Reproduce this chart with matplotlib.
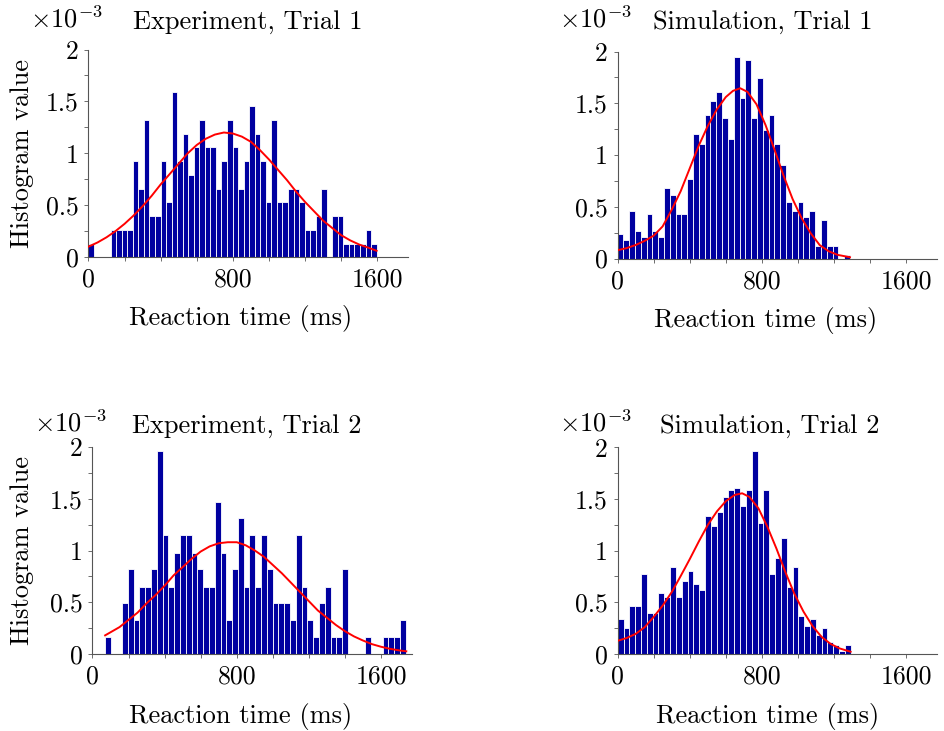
import numpy as np
import matplotlib
matplotlib.use('Agg')
import matplotlib.pyplot as plt
from matplotlib.ticker import MultipleLocator, FixedLocator, NullFormatter

plt.rcParams['font.family'] = 'serif'
plt.rcParams['font.serif'] = ['cmr10']
plt.rcParams['mathtext.fontset'] = 'cm'
plt.rcParams['axes.unicode_minus'] = False
plt.rcParams['axes.formatter.use_mathtext'] = True

# histogram heights are in units of 1e-3 (shown as x10^-3 above each panel)
exp1_heights = [0.13, 0, 0, 0, 0.26, 0.26, 0.26, 0.26, 0.93, 0.66, 1.32, 0.40, 0.40, 0.93, 0.53, 1.59,
                0.93, 1.19, 0.79, 1.06, 1.32, 1.06, 1.06, 0.66, 0.93, 1.32, 1.06, 0.66, 0.93, 1.46, 1.19,
                0.93, 0.53, 1.32, 0.53, 0.53, 0.66, 0.66, 0.53, 0.26, 0.26, 0.40, 0.66, 0, 0.40, 0.40,
                0.13, 0.13, 0.13, 0.13, 0.26, 0.13]
exp1_bin_start = 0
exp1_bin_width = 30.7
exp1_fit_x = [0, 50, 100, 150, 200, 250, 300, 350, 400, 450, 500, 550, 600, 650, 700, 750, 800, 850,
              900, 950, 1000, 1050, 1100, 1150, 1200, 1250, 1300, 1350, 1400, 1450, 1500, 1550, 1596]
exp1_fit_y = [0.10, 0.14, 0.19, 0.25, 0.32, 0.40, 0.49, 0.59, 0.70, 0.80, 0.90, 1.00, 1.08, 1.14, 1.18,
              1.20, 1.19, 1.16, 1.11, 1.03, 0.94, 0.84, 0.74, 0.63, 0.53, 0.44, 0.35, 0.28, 0.21, 0.16,
              0.12, 0.09, 0.06]

sim1_heights = [0.24, 0.18, 0.46, 0.27, 0.21, 0.43, 0.27, 0.21, 0.68, 0.61, 0.43, 0.43, 0.77, 1.20,
                1.11, 1.39, 1.52, 1.61, 1.36, 1.15, 1.95, 1.55, 1.92, 1.36, 1.74, 1.24, 1.39, 1.11,
                0.90, 0.55, 0.46, 0.55, 0.40, 0.46, 0.12, 0.37, 0.12, 0.12, 0, 0.03]
sim1_bin_start = 0
sim1_bin_width = 32.2
sim1_fit_x = [0, 50, 100, 150, 200, 250, 300, 350, 400, 450, 500, 550, 600, 640, 680, 720, 770, 820,
              870, 920, 970, 1020, 1070, 1120, 1170, 1220, 1288]
sim1_fit_y = [0.08, 0.10, 0.13, 0.17, 0.22, 0.31, 0.47, 0.65, 0.87, 1.09, 1.28, 1.44, 1.56, 1.62, 1.645,
              1.61, 1.49, 1.29, 1.05, 0.80, 0.575, 0.39, 0.245, 0.13, 0.07, 0.035, 0.012]

exp2_heights = [0.16, 0, 0, 0.49, 0.82, 0.33, 0.65, 0.65, 0.82, 1.96, 1.15, 0.65, 0.98, 1.15, 1.15,
                0.98, 0.82, 0.65, 0.65, 1.47, 0.98, 0.33, 0.82, 1.31, 0.65, 1.15, 0.65, 1.15, 0.82,
                0.49, 0.49, 0.49, 0.33, 1.15, 0.65, 0.33, 0.16, 0.49, 0.65, 0.16, 0.16, 0.82, 0, 0, 0,
                0.16, 0, 0, 0.16, 0.16, 0.16, 0.33]
exp2_bin_start = 68
exp2_bin_width = 32.1
exp2_fit_x = [70, 100, 150, 200, 250, 300, 350, 400, 450, 500, 550, 600, 650, 700, 750, 800, 850, 900,
              950, 1000, 1050, 1100, 1150, 1200, 1250, 1300, 1350, 1400, 1450, 1500, 1550, 1600, 1650,
              1700, 1740]
exp2_fit_y = [0.18, 0.21, 0.26, 0.33, 0.40, 0.49, 0.57, 0.66, 0.76, 0.84, 0.92, 0.99, 1.04, 1.07, 1.08,
              1.08, 1.05, 1.00, 0.94, 0.86, 0.78, 0.69, 0.60, 0.51, 0.42, 0.35, 0.28, 0.22, 0.17, 0.13,
              0.095, 0.07, 0.05, 0.035, 0.026]

sim2_heights = [0.335, 0.25, 0.46, 0.46, 0.77, 0.40, 0.40, 0.59, 0.55, 0.84, 0.55, 0.71, 0.80, 0.68,
                0.62, 1.34, 1.24, 1.37, 1.52, 1.59, 1.61, 1.43, 1.59, 1.96, 1.27, 1.59, 0.77, 0.93,
                1.12, 0.65, 0.84, 0.37, 0.27, 0.34, 0.18, 0.25, 0.12, 0.09, 0.03, 0.09]
sim2_bin_start = 0
sim2_bin_width = 32.3
sim2_fit_x = [0, 50, 100, 150, 200, 250, 300, 350, 400, 450, 500, 550, 600, 650, 690, 730, 780, 830,
              880, 930, 980, 1030, 1080, 1130, 1180, 1230, 1291]
sim2_fit_y = [0.128, 0.155, 0.195, 0.26, 0.36, 0.47, 0.60, 0.757, 0.92, 1.09, 1.25, 1.38, 1.48, 1.54,
              1.555, 1.52, 1.41, 1.23, 1.02, 0.79, 0.58, 0.41, 0.27, 0.166, 0.098, 0.054, 0.022]

x_ticks = [0, 800, 1600]
y_ticks = [0, 0.5, 1, 1.5, 2]
y_tick_labels = ['0', '0.5', '1', '1.5', '2']

BAR_COLOR = '#0000a0'
AXIS_COLOR = '#555555'
LABEL_SIZE = 19
W, H = 945, 731

fig = plt.figure(figsize=(W / 100, H / 100), dpi=100)


def px(x, y):
    # pixel position (from top left) -> figure fraction
    return x / W, 1 - y / H


def drawPanel(box, heights, binStart, binWidth, fitX, fitY, title, titleX, textY, xlabelX, ylabel):
    left, top, right, bottom = box
    ax = fig.add_axes([left / W, 1 - bottom / H, (right - left) / W, (bottom - top) / H])

    edges = binStart + binWidth * np.arange(len(heights))
    ax.bar(edges, heights, width=binWidth, align='edge', color=BAR_COLOR,
           edgecolor='white', linewidth=0.6, zorder=1)
    ax.plot(fitX, fitY, color='#ff0000', lw=1.4, zorder=3)

    ax.set_xlim(0, 1770)
    ax.set_ylim(0, 2)
    for side in ['top', 'right']:
        ax.spines[side].set_visible(False)
    for side in ['left', 'bottom']:
        ax.spines[side].set_color(AXIS_COLOR)
        ax.spines[side].set_linewidth(0.8)

    ax.xaxis.set_major_locator(FixedLocator(x_ticks))
    ax.xaxis.set_minor_locator(MultipleLocator(200))
    ax.xaxis.set_minor_formatter(NullFormatter())
    ax.set_xticklabels([str(t) for t in x_ticks])
    ax.yaxis.set_major_locator(FixedLocator(y_ticks))
    ax.yaxis.set_minor_locator(MultipleLocator(0.25))
    ax.set_yticklabels(y_tick_labels)
    ax.tick_params(which='both', direction='out', length=3, width=0.6, color=AXIS_COLOR)
    ax.tick_params(axis='both', labelsize=18.5)
    ax.tick_params(axis='x', pad=5)
    ax.tick_params(axis='y', pad=4)

    fig.text(*px(titleX, textY), title, ha='center', va='baseline', fontsize=LABEL_SIZE)
    fig.text(*px(left + 14, textY - 1), r'$\times10^{-3}$', ha='right', va='baseline',
             fontsize=LABEL_SIZE)
    fig.text(*px(xlabelX, bottom + 62), 'Reaction time (ms)', ha='center', va='center',
             fontsize=LABEL_SIZE)
    if ylabel:
        fig.text(*px(22, (top + bottom) / 2), 'Histogram value', rotation=90,
                 ha='center', va='center', fontsize=LABEL_SIZE)
    return ax


drawPanel((88.5, 49.5, 408, 257), exp1_heights, exp1_bin_start, exp1_bin_width,
          exp1_fit_x, exp1_fit_y, 'Experiment, Trial 1', 247.5, 29, 241, True)
drawPanel((617.5, 51.5, 937, 258.5), sim1_heights, sim1_bin_start, sim1_bin_width,
          sim1_fit_x, sim1_fit_y, 'Simulation, Trial 1', 763, 29, 766, False)
drawPanel((92.5, 447, 411.7, 654), exp2_heights, exp2_bin_start, exp2_bin_width,
          exp2_fit_x, exp2_fit_y, 'Experiment, Trial 2', 246.7, 433, 241, True)
drawPanel((617.7, 447.3, 937, 654), sim2_heights, sim2_bin_start, sim2_bin_width,
          sim2_fit_x, sim2_fit_y, 'Simulation, Trial 2', 770, 433, 768, False)

fig.savefig('out.png', dpi=100)
